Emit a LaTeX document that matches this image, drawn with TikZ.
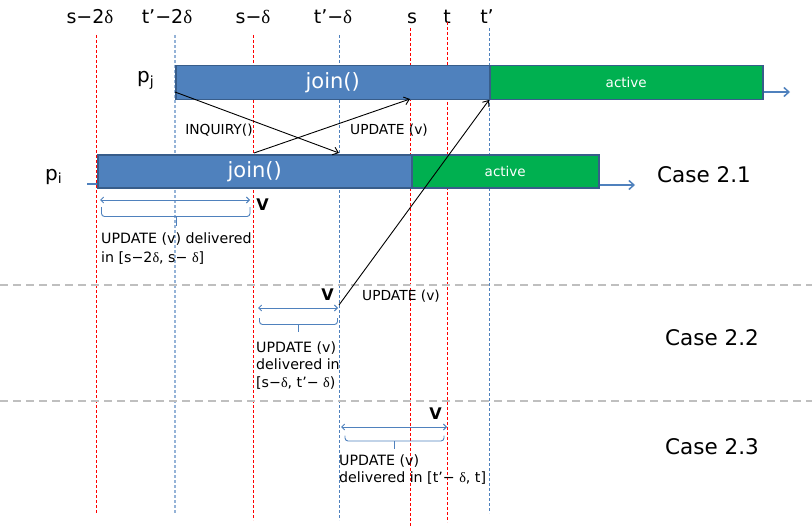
\documentclass[tikz,border=0pt]{standalone}
\usepackage{fontspec}
\setmainfont{DejaVu Sans}
\newfontfamily\dfont{Liberation Serif}
\usetikzlibrary{arrows.meta}
\newcommand\dl{{\dfont δ}}

\definecolor{barblue}{HTML}{4F81BD}
\definecolor{barline}{HTML}{385D8A}
\definecolor{bargreen}{HTML}{00B050}
\definecolor{lineblue}{HTML}{4F81BD}
\definecolor{paleblue}{HTML}{95B3D7}
\definecolor{sepgray}{HTML}{BFBFBF}

\begin{document}
\begin{tikzpicture}[x=1pt,y=-1pt,
  phase/.style={draw=barline, line width=1.5pt, text=white, inner sep=0pt, anchor=north west},
  joinbar/.style={phase, fill=barblue, font=\fontsize{21}{24}\selectfont},
  activebar/.style={phase, fill=bargreen, font=\fontsize{13.5}{16}\selectfont},
  redguide/.style={red, line width=0.8pt, dash pattern=on 3pt off 2pt},
  blueguide/.style={lineblue, line width=0.8pt, dash pattern=on 3pt off 2pt},
  paleguide/.style={paleblue, line width=1.2pt, dash pattern=on 3pt off 2pt},
  sepline/.style={sepgray, line width=1.5pt, dash pattern=on 8pt off 5pt},
  timelab/.style={anchor=base, inner sep=0pt, font=\fontsize{19}{21}\selectfont},
  proclab/.style={anchor=base west, inner sep=0pt, font=\fontsize{20}{22}\selectfont},
  caselab/.style={anchor=base, inner sep=0pt, font=\fontsize{21.5}{24}\selectfont},
  msglab/.style={anchor=base, inner sep=0pt, font=\fontsize{13.8}{16}\selectfont},
  vlab/.style={anchor=base, inner sep=0pt, font=\fontsize{16}{18}\selectfont\bfseries},
  infolab/.style={anchor=base west, inner sep=0pt, font=\fontsize{14.2}{17}\selectfont},
  msg/.style={black, line width=0.9pt, -{Straight Barb[length=5pt,width=8pt]}},
  life/.style={lineblue, line width=1.5pt, -{Straight Barb[length=5pt,width=9pt]}},
  span/.style={lineblue, line width=0.9pt, {Straight Barb[length=3pt,width=6pt]}-{Straight Barb[length=3pt,width=6pt]}},
  brc/.style={lineblue, line width=0.9pt, rounded corners=3pt}
]
\useasboundingbox (0,0) rectangle (812,527);

% time labels
\node[timelab] (ls2d) at (90,24) {s−2\dl};
\node[timelab] (lt2d) at (167,24) {t’−2\dl};
\node[timelab] (lsd)  at (253,24) {s−\dl};
\node[timelab] (ltd)  at (333,24) {t’−\dl};
\node[timelab] (ls)   at (412,24) {s};
\node[timelab] (lt)   at (447,24) {t};
\node[timelab] (ltp)  at (487,24) {t’};

% vertical time guides
\draw[redguide]  (96.5,35) -- (96.5,513);
\draw[paleguide] (175,35) -- (175,513);
\draw[redguide]  (253,35) -- (253,520);
\draw[blueguide] (339,35) -- (339,520);
\draw[redguide]  (410.5,28) -- (410.5,527);
\draw[redguide]  (447,22) -- (447,522);
\draw[blueguide] (489,28) -- (489,513);

% case separators
\draw[sepline] (0,285) -- (812,285);
\draw[sepline] (0,401) -- (812,401);

% process p_j
\node[proclab] (pj) at (137,83) {p\textsubscript{j}};
\node[joinbar, minimum width=314pt, minimum height=34pt] (jjoin) at (175,65) {join()};
\node[activebar, minimum width=273pt, minimum height=34pt] (jact) at (489,65) {active};
\coordinate (jend) at (790,92);
\draw[life] (jact.east |- jend) -- (jend);

% process p_i
\node[proclab] (pi) at (45,180) {p\textsubscript{i}};
\coordinate (istart) at (87,184);
\node[joinbar, minimum width=314pt, minimum height=33pt] (ijoin) at (97,154) {join()};
\node[activebar, minimum width=187pt, minimum height=33pt] (iact) at (411,154) {active};
\coordinate (iend) at (635,185);
\draw[lineblue, line width=1.5pt] (istart) -- (ijoin.west |- istart);
\draw[life] (iact.east |- iend) -- (iend);

% messages
\coordinate (inqS) at (175,92);
\coordinate (inqE) at (339,153);
\coordinate (upS)  at (254,153);
\coordinate (upE)  at (410,99);
\coordinate (lateS) at (339,305);
\coordinate (lateE) at (489,100);
\draw[msg] (inqS) -- (inqE);
\draw[msg] (upS) -- (upE);
\draw[msg] (lateS) -- (lateE);
\node[msglab] (inq) at (219,134) {INQUIRY()};
\node[msglab] (upd1) at (389,134) {UPDATE (v)};
\node[msglab] (upd2) at (401,300) {UPDATE (v)};

% case labels
\node[caselab] (c21) at (704,182) {Case 2.1};
\node[caselab] (c22) at (712,345) {Case 2.2};
\node[caselab] (c23) at (712,454) {Case 2.3};

% case 2.1 window
\node[vlab] (v1) at (262.5,210) {V};
\coordinate (a1l) at (100,200);
\coordinate (a1r) at (250,200);
\draw[span] (a1l) -- (a1r);
\draw[brc] (101.5,207) -- (101.5,216.5) -- (250,216.5) -- (250,207);
\draw[brc] (176,216.5) -- (176,226);
\node[infolab] (t1a) at (101,243) {UPDATE (v) delivered};
\node[infolab] (t1b) at (101,262) {in [s−2\dl, s− \dl]};

% case 2.2 window
\node[vlab] (v2) at (327.5,300) {V};
\coordinate (a2l) at (258,308);
\coordinate (a2r) at (338,308);
\draw[span] (a2l) -- (a2r);
\draw[brc] (259.5,318) -- (259.5,324.5) -- (337.5,324.5) -- (337.5,318);
\draw[brc] (298.5,324.5) -- (298.5,332);
\node[infolab] (t2a) at (256,352) {UPDATE (v)};
\node[infolab] (t2b) at (256,369) {delivered in};
\node[infolab] (t2c) at (256,387) {[s−\dl, t’− \dl)};

% case 2.3 window
\node[vlab] (v3) at (435.5,419) {V};
\coordinate (a3l) at (341,427);
\coordinate (a3r) at (447,427);
\draw[span] (a3l) -- (a3r);
\draw[brc] (345,435.5) -- (345,441) -- (444,441) -- (444,435.5);
\draw[brc] (394,441) -- (394,448.5);
\node[infolab] (t3a) at (339,465) {UPDATE (v)};
\node[infolab] (t3b) at (339,482) {delivered in [t'− \dl, t]};
\end{tikzpicture}
\end{document}
